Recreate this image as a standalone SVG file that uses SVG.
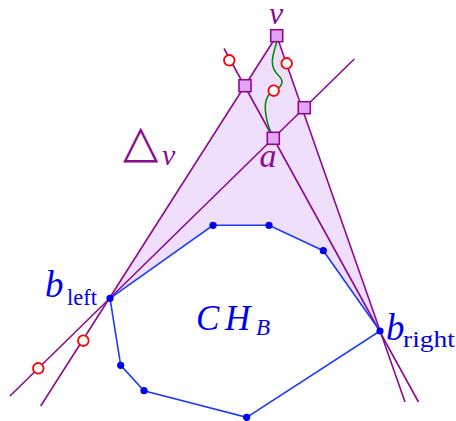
<svg xmlns="http://www.w3.org/2000/svg" width="456" height="421" viewBox="0 0 456 421">
<style>
.pl{stroke:#8b0a8f;stroke-width:1.6;fill:none}
.hull{stroke:#1a3cff;stroke-width:1.6;fill:none}
.dot{fill:#0000f0}
.sq{fill:#e3a4f3;stroke:#8b0a8f;stroke-width:1.6}
.rc{fill:#ffffff;stroke:#ff0000;stroke-width:1.8}
.it{font-family:"Liberation Serif",serif;font-style:italic}
.up{font-family:"Liberation Serif",serif}
.purple{fill:#8b0a8f}
.blue{fill:#0000f0}
</style>
<rect width="456" height="421" fill="#ffffff"/>
<g id="region">
<polygon points="276.7,35.7 110,298.3 213,225.3 269,225.3 323.3,250.7 380,331" fill="#f0defd" stroke="none"/>
</g>
<g id="connectors">
<line class="pl" x1="40.7" y1="406" x2="276.7" y2="35.7"/>
<line class="pl" x1="276.7" y1="35.7" x2="405" y2="402"/>
<line class="pl" x1="10" y1="396" x2="354.3" y2="59"/>
<line class="pl" x1="224" y1="48.5" x2="418.5" y2="402"/>
<polyline class="hull" points="110,298.3 213,225.3 269,225.3 323.3,250.7 380,331 246.7,417.3 144,390.7 120.7,365.3 110,298.3"/>
<path d="M277,41 C273,55 268,66 279,76 C286,83 279,89 274,91 C266,94 264,104 266,115 C267,124 270,130 272,135" fill="none" stroke="#0a8a0a" stroke-width="1.6"/>
</g>
<g id="hull-points">
<circle class="dot" cx="110" cy="298.3" r="3.6"/>
<circle class="dot" cx="213" cy="225.3" r="3.6"/>
<circle class="dot" cx="269" cy="225.3" r="3.6"/>
<circle class="dot" cx="323.3" cy="250.7" r="3.6"/>
<circle class="dot" cx="380" cy="331" r="3.6"/>
<circle class="dot" cx="246.7" cy="417.3" r="3.6"/>
<circle class="dot" cx="144" cy="390.7" r="3.6"/>
<circle class="dot" cx="120.7" cy="365.3" r="3.6"/>
</g>
<g id="red-points">
<circle class="rc" cx="229.3" cy="60.3" r="5.3"/>
<circle class="rc" cx="286.7" cy="63.3" r="5.3"/>
<circle class="rc" cx="273.7" cy="90.7" r="5.3"/>
<circle class="rc" cx="83.3" cy="340.7" r="5.3"/>
<circle class="rc" cx="38.3" cy="368.3" r="5.3"/>
</g>
<g id="v">
<rect class="sq" x="270.7" y="29.7" width="12" height="12"/>
<text class="it purple" x="276" y="24" font-size="32" text-anchor="middle">v</text>
</g>
<g id="left-square"><rect class="sq" x="239" y="79.7" width="12" height="12"/></g>
<g id="right-square"><rect class="sq" x="298.3" y="101.7" width="12" height="12"/></g>
<g id="a">
<rect class="sq" x="267.3" y="132.3" width="12" height="12"/>
<text class="it purple" x="268" y="167" font-size="34" text-anchor="middle">a</text>
</g>
<g id="delta-v">
<text class="purple" x="123" y="157" font-family="DejaVu Sans,sans-serif" font-size="46">△</text>
<text class="it purple" x="162" y="165" font-size="30">v</text>
</g>
<g id="b-left">
<text class="it blue" x="45" y="297" font-size="37">b</text>
<text class="up blue" x="67" y="305" font-size="23" textLength="30" lengthAdjust="spacingAndGlyphs">left</text>
</g>
<g id="b-right">
<text class="it blue" x="386" y="340" font-size="37">b</text>
<text class="up blue" x="403" y="347" font-size="23" textLength="52" lengthAdjust="spacingAndGlyphs">right</text>
</g>
<g id="ch-b">
<text class="it blue" y="330" font-size="35"><tspan x="196">C</tspan><tspan x="225">H</tspan></text>
<text class="it blue" x="256" y="335" font-size="23">B</text>
</g>
</svg>
